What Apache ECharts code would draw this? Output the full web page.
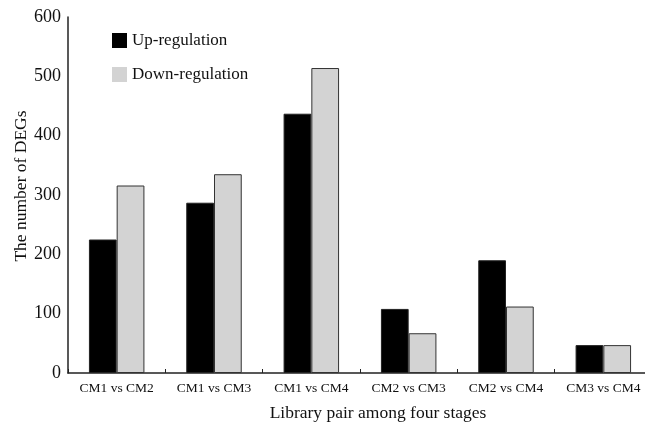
<!DOCTYPE html>
<html><head><meta charset="utf-8">
<script src="https://cdn.jsdelivr.net/npm/echarts@6/dist/echarts.min.js"></script>
<style>html,body{margin:0;padding:0;background:#fff}#c{width:645px;height:423px}</style>
</head><body><div id="c"></div>
<script>
const categories = ["CM1 vs CM2","CM1 vs CM3","CM1 vs CM4","CM2 vs CM3","CM2 vs CM4","CM3 vs CM4"];
const upRegulation = [225, 287, 437, 108, 190, 47];
const downRegulation = [316, 335, 514, 67, 112, 47];
const yTicks = [0,100,200,300,400,500,600];
const F = "Liberation Serif, Times New Roman, serif";
const chart = echarts.init(document.getElementById('c'));
chart.setOption({
  animation:false,
  backgroundColor:'#fff',
  legend:{
    left:107, top:27, orient:'vertical', itemGap:17, itemWidth:15, itemHeight:15, icon:'rect', itemStyle:{borderWidth:0},
    textStyle:{fontFamily:F,fontSize:17,color:'#111'},
    data:['Up-regulation','Down-regulation']
  },
  grid:{left:68, top:17, width:584, height:356, outerBoundsMode:'none', containLabel:false},
  xAxis:{
    type:'category', data:categories,
    axisLine:{lineStyle:{color:'#222',width:1.5}},
    axisTick:{show:true,inside:true,length:4,interval:0,lineStyle:{color:'#222'}},
    axisLabel:{fontFamily:F,fontSize:13.5,color:'#111',margin:8,interval:0},
    name:'Library pair among four stages', nameLocation:'middle', nameGap:31,
    nameTextStyle:{fontFamily:F,fontSize:17.5,color:'#111',padding:[0,0,0,36]}
  },
  yAxis:{
    type:'value', min:yTicks[0], max:yTicks[yTicks.length-1], interval:100,
    axisLine:{show:true,lineStyle:{color:'#222',width:1.5}},
    axisTick:{show:false},
    splitLine:{show:false},
    axisLabel:{fontFamily:F,fontSize:18,color:'#111',margin:7},
    name:'The number of DEGs', nameLocation:'middle', nameGap:38, nameMoveOverlap:false,
    nameTextStyle:{fontFamily:F,fontSize:17.5,color:'#111',padding:[0,0,0,18]}
  },
  series:[
    {name:'Up-regulation',type:'bar',data:upRegulation,barGap:'0%',barCategoryGap:'43%',
     itemStyle:{color:'#000',borderColor:'#222',borderWidth:1}},
    {name:'Down-regulation',type:'bar',data:downRegulation,
     itemStyle:{color:'#d3d3d3',borderColor:'#333',borderWidth:1}}
  ]
});
</script></body></html>
